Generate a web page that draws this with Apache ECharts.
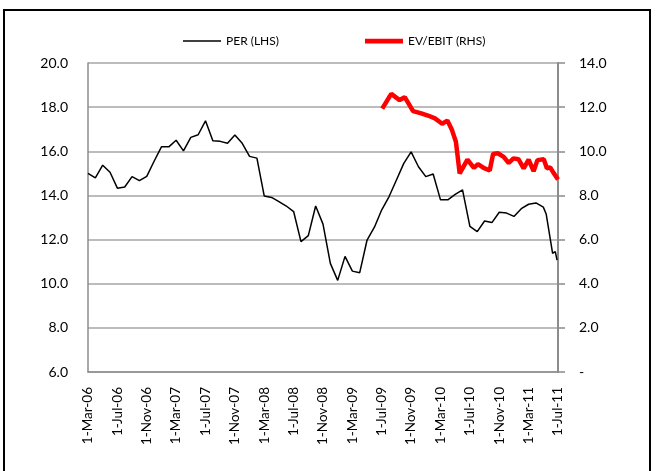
<!DOCTYPE html>
<html>
<head>
<meta charset="utf-8">
<script src="https://cdn.jsdelivr.net/npm/echarts@6/dist/echarts.min.js"></script>
<style>
  html, body { margin: 0; padding: 0; background: #fff; }
  #chart { width: 656px; height: 471px; }
</style>
</head>
<body>
<div id="chart"></div>
<script>
// PER, monthly from Mar-06, then a few points in the last weeks
const perDates = [
  '2006-03-01', '2006-04-01', '2006-05-01', '2006-06-01', '2006-07-01', '2006-08-01', '2006-09-01', '2006-10-01', '2006-11-01', '2006-12-01',
  '2007-01-01', '2007-02-01', '2007-03-01', '2007-04-01', '2007-05-01', '2007-06-01', '2007-07-01', '2007-08-01', '2007-09-01', '2007-10-01', '2007-11-01', '2007-12-01',
  '2008-01-01', '2008-02-01', '2008-03-01', '2008-04-01', '2008-05-01', '2008-06-01', '2008-07-01', '2008-08-01', '2008-09-01', '2008-10-01', '2008-11-01', '2008-12-01',
  '2009-01-01', '2009-02-01', '2009-03-01', '2009-04-01', '2009-05-01', '2009-06-01', '2009-07-01', '2009-08-01', '2009-09-01', '2009-10-01', '2009-11-01', '2009-12-01',
  '2010-01-01', '2010-02-01', '2010-03-01', '2010-04-01', '2010-05-01', '2010-06-01', '2010-07-01', '2010-08-01', '2010-09-01', '2010-10-01', '2010-11-01', '2010-12-01',
  '2011-01-01', '2011-02-01', '2011-03-01', '2011-04-01', '2011-05-01', '2011-05-13', '2011-06-09', '2011-06-20', '2011-06-27'
];
const perValues = [
  15.0, 14.8, 15.37, 15.05, 14.33, 14.38, 14.85, 14.67, 14.86, 15.55,
  16.2, 16.2, 16.5, 16.02, 16.63, 16.75, 17.38, 16.48, 16.45, 16.36, 16.74, 16.36,
  15.77, 15.69, 13.97, 13.91, 13.72, 13.52, 13.27, 11.91, 12.18, 13.52, 12.7, 10.92,
  10.15, 11.24, 10.57, 10.5, 11.98, 12.56, 13.35, 13.95, 14.7, 15.45, 15.97, 15.3,
  14.85, 14.97, 13.8, 13.8, 14.05, 14.25, 12.6, 12.36, 12.84, 12.77, 13.24, 13.2,
  13.05, 13.4, 13.6, 13.66, 13.47, 13.16, 11.38, 11.45, 11.07
];

// EV/EBIT
const evDates = [
  '2009-07-03', '2009-08-10', '2009-09-14', '2009-10-05', '2009-11-09', '2009-12-13', '2010-01-10', '2010-02-08',
  '2010-03-08', '2010-03-30', '2010-04-18', '2010-05-04', '2010-05-20', '2010-06-21', '2010-07-18', '2010-08-04',
  '2010-08-28', '2010-09-22', '2010-10-06', '2010-10-26', '2010-11-19', '2010-12-10', '2010-12-30', '2011-01-20',
  '2011-02-10', '2011-03-01', '2011-03-22', '2011-04-07', '2011-05-03', '2011-05-16', '2011-05-30', '2011-06-14', '2011-07-01'
];
const evValues = [
  11.93, 12.6, 12.32, 12.45, 11.82, 11.72, 11.62, 11.49,
  11.25, 11.39, 10.96, 10.43, 9.0, 9.62, 9.25, 9.42,
  9.25, 9.13, 9.88, 9.91, 9.75, 9.47, 9.68, 9.64,
  9.23, 9.62, 9.1, 9.6, 9.64, 9.23, 9.27, 9.0, 8.72
];

const leftTicks = { min: 6, max: 20, step: 2 };
const rightTicks = { min: 0, max: 14, step: 2 };
const monthNames = ['Jan', 'Feb', 'Mar', 'Apr', 'May', 'Jun', 'Jul', 'Aug', 'Sep', 'Oct', 'Nov', 'Dec'];
const labelStepMonths = 4;

// months since 1-Mar-06
function monthIndex(s) {
    const p = s.split('-').map(Number);
    const days = new Date(p[0], p[1], 0).getDate();
    return (p[0] - 2006) * 12 + (p[1] - 3) + (p[2] - 1) / days;
}

function monthLabel(idx) {
    const m = 2 + Math.round(idx);
    const year = 2006 + Math.floor(m / 12);
    return '1-' + monthNames[m % 12] + '-' + String(year).slice(2);
}

const perData = perDates.map((d, i) => [monthIndex(d), perValues[i]]);
const evData = evDates.map((d, i) => [monthIndex(d), evValues[i]]);

const font = 'Lato, "Open Sans", sans-serif';
const chart = echarts.init(document.getElementById('chart'));

chart.setOption({
    animation: false,
    graphic: [{
        type: 'rect',
        shape: { x: 4, y: 10, width: 646, height: 470 },
        style: { fill: 'none', stroke: '#000', lineWidth: 2 },
        silent: true
    }],
    legend: {
        top: 30,
        left: 178,
        itemWidth: 38,
        itemHeight: 14,
        itemGap: 86,
        textStyle: { fontFamily: font, fontSize: 12, color: '#000' },
        data: [
            { name: 'PER (LHS)', icon: 'path://M0,0H40V1.6H0Z' },
            { name: 'EV/EBIT (RHS)', icon: 'path://M0,0H40V5H0Z' }
        ]
    },
    grid: {
        left: 88,
        right: 98,
        top: 63,
        bottom: 99
    },
    xAxis: {
        type: 'value',
        min: 0,
        max: 64,
        interval: labelStepMonths,
        axisLine: { show: true, lineStyle: { color: '#8c8c8c', width: 1.5 } },
        axisTick: { show: false },
        splitLine: { show: false },
        axisLabel: {
            rotate: 90,
            margin: 15,
            fontFamily: font,
            fontSize: 13.5,
            color: '#000',
            formatter: monthLabel
        }
    },
    yAxis: [
        {
            type: 'value',
            min: leftTicks.min,
            max: leftTicks.max,
            interval: leftTicks.step,
            position: 'left',
            axisLine: { show: true, lineStyle: { color: '#8c8c8c', width: 1.5 } },
            axisTick: { show: false },
            splitLine: { lineStyle: { color: '#a6a6a6', width: 1.5 } },
            axisLabel: {
                margin: 20,
                fontFamily: font,
                fontSize: 14,
                color: '#000',
                formatter: v => v.toFixed(1)
            }
        },
        {
            type: 'value',
            min: rightTicks.min,
            max: rightTicks.max,
            interval: rightTicks.step,
            position: 'right',
            axisLine: { show: true, lineStyle: { color: '#8c8c8c', width: 2 } },
            axisTick: { show: true, length: 7, lineStyle: { color: '#8c8c8c', width: 1.5 } },
            splitLine: { show: false },
            axisLabel: {
                margin: 21,
                fontFamily: font,
                fontSize: 14,
                color: '#000',
                formatter: v => (v === 0 ? '-' : v.toFixed(1))
            }
        }
    ],
    series: [
        {
            name: 'PER (LHS)',
            type: 'line',
            yAxisIndex: 0,
            symbol: 'none',
            lineStyle: { color: '#000', width: 1.5 },
            itemStyle: { color: '#000' },
            data: perData
        },
        {
            name: 'EV/EBIT (RHS)',
            type: 'line',
            yAxisIndex: 1,
            symbol: 'none',
            lineStyle: { color: '#ff0000', width: 4.5 },
            itemStyle: { color: '#ff0000' },
            data: evData
        }
    ]
});

window.addEventListener('resize', function () {
    chart.resize();
});
</script>
</body>
</html>
